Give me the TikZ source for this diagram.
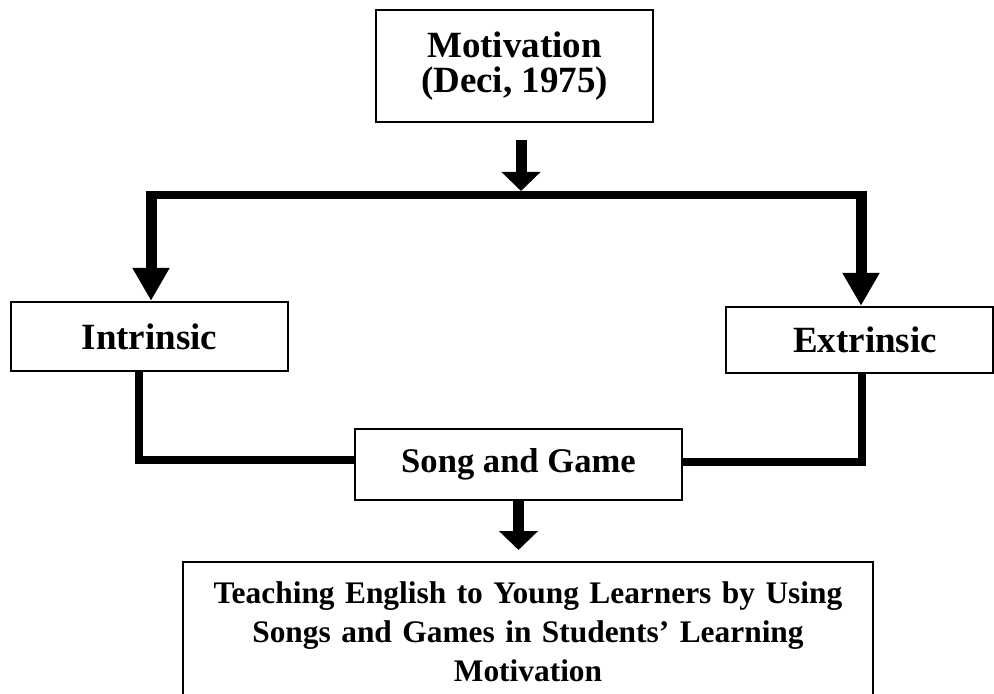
\documentclass[tikz,border=0pt]{standalone}
\usepackage{fontspec}
\setmainfont{Liberation Serif}
\usetikzlibrary{arrows.meta}

\begin{document}
\begin{tikzpicture}[x=0.5pt,y=-0.5pt,
  box/.style={draw,line width=1.2pt,align=center,inner sep=0pt,
    font=\bfseries\fontsize{18.5}{17.5}\selectfont},
  bar/.style={line width=4pt},
  flatarrow/.style={line width=5.5pt,-{Triangle[width=19pt,length=9.5pt]}},
  sidearrow/.style={line width=5.5pt,-{Triangle[width=17.5pt,length=16.5pt]}}]
  \useasboundingbox (0,0) rectangle (994,694);
  \clip (0,0) rectangle (994,694);
  % boxes
  \node[box,minimum width=138.5pt,minimum height=56pt] (motiv) at (514.5,66) {Motivation\\(Deci, 1975)};
  \node[box,minimum width=138.5pt,minimum height=34.5pt] (intr) at (149.5,336.5) {Intrinsic};
  \node[box,minimum width=133.5pt,minimum height=33pt] (extr) at (859.5,340) {\hspace*{5.5pt}Extrinsic};
  \node[box,minimum width=163.5pt,minimum height=35.5pt,
    font=\bfseries\fontsize{17.3}{17}\selectfont] (song) at (518.5,464.5) {Song and Game};
  \node[box,anchor=north,text width=345pt,inner ysep=10pt,
    font=\bfseries\fontsize{15.7}{19.5}\selectfont] (teach) at (528,561)
    {Teaching English to Young Learners by Using\\Songs and Games in Students’ Learning\\Motivation};
  % branch points
  \coordinate (split) at (521,195);
  \coordinate (lt) at (151,195);
  \coordinate (rt) at (861,195);
  % connectors
  \draw[bar] (lt) -- (rt);
  \draw[flatarrow] ([yshift=-8.5pt]motiv.south -| split) -- ([yshift=2pt]split);
  \draw[sidearrow] ([yshift=2pt]lt) -- (intr.north -| lt);
  \draw[sidearrow] ([yshift=2pt]rt) -- (extr.north -| rt);
  \draw[bar] ([xshift=-5.25pt]intr.south) |- ([yshift=2.25pt]song.west);
  \draw[bar] ([xshift=1.25pt]extr.south) |- ([yshift=1.25pt]song.east);
  \draw[flatarrow] (song.south) -- ([yshift=5.5pt]song.south |- teach.north);
\end{tikzpicture}
\end{document}
